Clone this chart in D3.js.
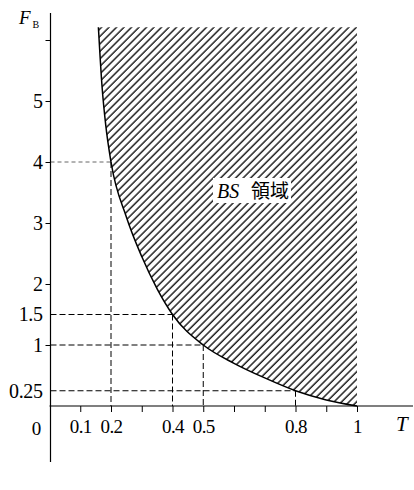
<!DOCTYPE html>
<html>
<head>
<meta charset="utf-8">
<script src="https://cdn.jsdelivr.net/npm/d3@7"></script>
<style>
  html, body { margin: 0; padding: 0; background: #fff; }
  svg { display: block; }
  svg text { font-family: "Liberation Serif", "Times New Roman", Times, "DejaVu Serif", "Noto Serif", serif; }
  svg text.cjk { font-family: "Noto Sans CJK JP", sans-serif; }
</style>
</head>
<body>
<svg id="chart" width="414" height="490"></svg>
<script>
// --- DATA ---
const curveT = [0.159, 0.171, 0.183, 0.2, 0.25, 0.3, 0.35, 0.4, 0.5, 0.6, 0.7, 0.8, 0.9, 1];
const curveF = [6.21, 5.23, 4.6, 4.0, 3.1, 2.45, 1.92, 1.5, 1.0, 0.7, 0.46, 0.25, 0.10, 0];
const topF = 6.21;

const guideT = [0.2, 0.4, 0.5, 0.8];
const guideF = [4, 1.5, 1, 0.25];

const xTicks = [0.1, 0.2, 0.3, 0.4, 0.5, 0.6, 0.7, 0.8, 0.9, 1];
const xLabels = ["0.1", "0.2", "", "0.4", "0.5", "", "", "0.8", "", "1"];
const yTicks = [0.25, 1, 1.5, 2, 3, 4, 5, 6];
const yLabels = ["0.25", "1", "1.5", "2", "3", "4", "5", ""];
const yNoTick = [0.25, 1.5];

// --- SCALES ---
const x = d3.scaleLinear().domain([0, 1]).range([49.5, 357]);
const y = d3.scaleLinear().domain([0, 6]).range([406, 40]);

const svg = d3.select("#chart");
const curveData = curveT.map((t, i) => ({ t: t, f: curveF[i] }));

// hatch pattern
svg.append("defs").append("pattern")
  .attr("id", "hatch")
  .attr("patternUnits", "userSpaceOnUse")
  .attr("width", 5.3).attr("height", 10)
  .attr("patternTransform", "rotate(45)")
  .append("line")
  .attr("x1", 1).attr("y1", -1).attr("x2", 1).attr("y2", 11)
  .attr("stroke", "#000").attr("stroke-width", 1.3);

// hatched region
svg.append("path")
  .datum(curveData)
  .attr("fill", "url(#hatch)")
  .attr("d", d3.area().curve(d3.curveMonotoneX)
    .x(d => x(d.t)).y0(d => y(d.f)).y1(y(topF)));

// dashed guides
guideT.forEach((t, i) => {
  const f = guideF[i];
  const light = f === 4;
  svg.append("line")
    .attr("x1", x(0) + 1).attr("x2", x(t))
    .attr("y1", y(f)).attr("y2", y(f))
    .attr("stroke", light ? "#666" : "#000")
    .attr("stroke-width", 1)
    .attr("stroke-dasharray", light ? "4,3" : "6,3");
  svg.append("line")
    .attr("x1", x(t)).attr("x2", x(t))
    .attr("y1", y(f)).attr("y2", y(0))
    .attr("stroke", "#000")
    .attr("stroke-width", 1)
    .attr("stroke-dasharray", "6,3");
});

// boundary curve
svg.append("path")
  .datum(curveData)
  .attr("fill", "none")
  .attr("stroke", "#000")
  .attr("stroke-width", 1.5)
  .attr("d", d3.line().curve(d3.curveMonotoneX).x(d => x(d.t)).y(d => y(d.f)));

// --- AXES ---
const xAxis = svg.append("g")
  .attr("transform", `translate(0,${y(0)})`)
  .call(d3.axisBottom(x).tickValues(xTicks).tickSize(6).tickPadding(8)
    .tickFormat((d, i) => xLabels[i]));
xAxis.attr("font-family", null);
xAxis.select(".domain").remove();
xAxis.selectAll("text").attr("font-size", 19).attr("letter-spacing", -0.6).attr("fill", "#000");
xAxis.selectAll("line").attr("stroke", "#000");

const yAxis = svg.append("g")
  .attr("transform", `translate(${x(0) + 1},0)`)
  .call(d3.axisLeft(y).tickValues(yTicks).tickSize(5).tickPadding(3)
    .tickFormat((d, i) => yLabels[i]));
yAxis.attr("font-family", null);
yAxis.select(".domain").remove();
yAxis.selectAll("text").attr("font-size", 20).attr("letter-spacing", -0.4).attr("fill", "#000");
yAxis.selectAll(".tick line")
  .attr("stroke", "#000")
  .attr("x2", d => yNoTick.includes(d) ? 0 : -5);

// axis lines
svg.append("line")
  .attr("x1", x(0)).attr("x2", 413)
  .attr("y1", y(0)).attr("y2", y(0))
  .attr("stroke", "#000").attr("stroke-width", 1.2);
svg.append("line")
  .attr("x1", x(0) + 1).attr("x2", x(0) + 1)
  .attr("y1", 13).attr("y2", 462)
  .attr("stroke", "#000").attr("stroke-width", 1.2);

// origin label
svg.append("text")
  .attr("x", 36.5).attr("y", 435).attr("text-anchor", "middle")
  .attr("font-size", 19).text("0");

// axis titles
const fLabel = svg.append("text")
  .attr("x", 19).attr("y", 24).attr("font-size", 19);
fLabel.append("tspan").attr("font-style", "italic").text("F");
fLabel.append("tspan").attr("font-size", 10).attr("dx", 2).attr("dy", 4).text("B");

svg.append("text")
  .attr("x", 396).attr("y", 431)
  .attr("font-size", 21).attr("font-style", "italic").text("T");

// region label
svg.append("rect")
  .attr("x", 213).attr("y", 178).attr("width", 78).attr("height", 25)
  .attr("fill", "#fff");
svg.append("text").attr("x", 217).attr("y", 198)
  .attr("font-size", 20).attr("font-style", "italic").text("BS");
svg.append("text").attr("class", "cjk").attr("x", 251).attr("y", 198)
  .attr("font-size", 19).text("領域");
</script>
</body>
</html>
